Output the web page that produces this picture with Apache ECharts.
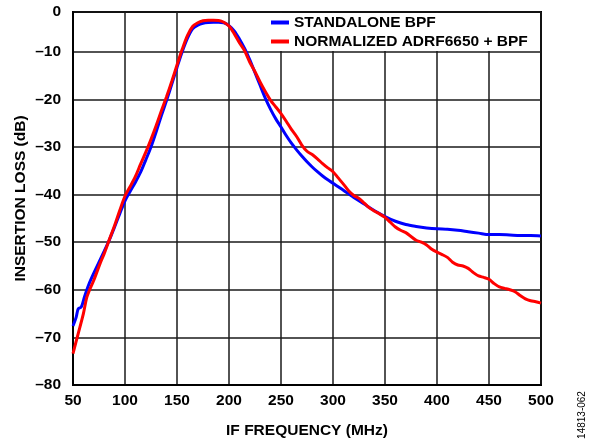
<!DOCTYPE html>
<html>
<head>
<meta charset="utf-8">
<script src="https://cdn.jsdelivr.net/npm/echarts@6/dist/echarts.min.js"></script>
<style>html,body{margin:0;padding:0;background:#fff;}#c{width:596px;height:444px;}</style>
</head>
<body>
<div id="c"></div>
<script>
const seriesNames = ['STANDALONE BPF', 'NORMALIZED ADRF6650 + BPF'];
const xTicks = [50, 100, 150, 200, 250, 300, 350, 400, 450, 500];
const yTicks = [0, -10, -20, -30, -40, -50, -60, -70, -80];

const freqBlue = [50,53,55,58,61,65,70,75,80,85,90,95,100,105,110,115,120,125,130,135,140,145,150,155,160,165,170,175,180,185,190,195,200,205,210,215,220,225,230,235,240,245,250,255,260,265,270,275,280,285,290,295,300,310,320,330,340,350,360,370,380,390,400,410,420,430,440,450,460,470,480,490,500];
const lossBlue = [-67.6,-65.8,-64,-63.6,-61.5,-59,-56.5,-54.2,-51.9,-49.5,-46.8,-44,-41.3,-39.3,-37.4,-35.3,-32.7,-30,-26.8,-23.4,-20.2,-16.8,-13.3,-10,-7.2,-5.2,-4.4,-4.0,-3.85,-3.8,-3.8,-3.9,-4.5,-5.6,-7.3,-9.3,-11.7,-14.4,-17.1,-19.8,-22.1,-24.1,-25.8,-27.6,-29.2,-30.6,-31.9,-33.1,-34.2,-35.2,-36.1,-36.9,-37.6,-39.1,-40.6,-42,-43.4,-44.6,-45.6,-46.3,-46.7,-47,-47.2,-47.3,-47.5,-47.8,-48.1,-48.4,-48.4,-48.5,-48.6,-48.6,-48.7];

const freqRed = [50,55,60,63,66,70,76,80,84,90,95,100,105,110,115,120,125,130,135,140,145,150,155,160,165,170,175,180,185,190,195,200,205,210,215,220,225,230,235,240,245,250,255,260,265,270,275,280,285,290,295,300,305,310,315,320,325,330,335,340,345,350,355,360,365,370,375,380,385,390,395,400,405,410,415,420,425,430,435,440,445,450,455,460,465,470,475,480,485,490,495,500];
const lossRed = [-73.4,-69.2,-65,-61.8,-60,-58,-54.5,-52.4,-50,-46.5,-43.3,-40.3,-38.3,-36.2,-33.6,-31.1,-28.4,-25.5,-22.4,-19.4,-16.2,-12.8,-9.5,-6.6,-4.7,-3.9,-3.5,-3.4,-3.4,-3.45,-3.8,-4.6,-6.2,-8.1,-9.8,-12.2,-14.2,-16.4,-18.4,-20.2,-21.6,-23.0,-24.6,-26.3,-27.8,-29.6,-30.9,-31.6,-32.5,-33.5,-34.4,-35.2,-36.5,-37.8,-39.2,-40.2,-40.8,-41.8,-42.8,-43.5,-44.1,-44.8,-45.8,-46.8,-47.5,-48,-48.8,-49.6,-50,-50.6,-51.5,-52.1,-52.6,-53.2,-54.2,-54.8,-55,-55.5,-56.4,-57.1,-57.4,-57.8,-58.7,-59.4,-59.7,-60,-60.4,-61.2,-61.9,-62.3,-62.5,-62.8];

const FONT = 'Liberation Sans, Arial, Helvetica, sans-serif';
const pairs = (xs, ys) => xs.map((x, i) => [x, ys[i]]);

const chart = echarts.init(document.getElementById('c'), null, {renderer: 'canvas'});
chart.setOption({
  animation: false,
  backgroundColor: '#fff',
  grid: {left: 73, right: 55, top: 12, bottom: 56, show: true, borderColor: '#000', borderWidth: 2, backgroundColor: 'transparent'},
  legend: {
    orient: 'vertical', left: 263, top: 13,
    backgroundColor: '#fff', padding: [1, 8, 1, 8],
    itemGap: 2, itemWidth: 18, itemHeight: 4, icon: 'rect',
    textStyle: {fontFamily: FONT, fontWeight: 'bold', fontSize: 15.5, color: '#000', lineHeight: 17},
    data: seriesNames
  },
  xAxis: {
    type: 'value', min: xTicks[0], max: xTicks[xTicks.length - 1], interval: 50,
    name: 'IF FREQUENCY (MHz)', nameLocation: 'middle', nameGap: 38,
    nameTextStyle: {fontFamily: FONT, fontWeight: 'bold', fontSize: 15.5, color: '#000'},
    axisLine: {show: true, lineStyle: {color: '#000', width: 2}},
    axisTick: {show: false},
    axisLabel: {margin: 8, fontFamily: FONT, fontWeight: 'bold', fontSize: 15.5, color: '#000'},
    splitLine: {show: true, lineStyle: {color: '#1a1a1a', width: 1.5}}
  },
  yAxis: {
    type: 'value', min: yTicks[yTicks.length - 1], max: -1.65, interval: 10,
    name: 'INSERTION LOSS (dB)', nameLocation: 'middle', nameGap: 44, nameRotate: 90,
    nameMoveOverlap: false,
    nameTextStyle: {fontFamily: FONT, fontWeight: 'bold', fontSize: 15.5, color: '#000'},
    axisLine: {show: true, lineStyle: {color: '#000', width: 2}},
    axisTick: {show: false},
    axisLabel: {
      margin: 12, fontFamily: FONT, fontWeight: 'bold', fontSize: 15.5, color: '#000',
      formatter: v => v > -5 ? String(yTicks[0]) : '\u2013' + Math.abs(Math.round(v))
    },
    splitLine: {show: true, lineStyle: {color: '#1a1a1a', width: 1.5}}
  },
  series: [
    {name: seriesNames[0], type: 'line', data: pairs(freqBlue, lossBlue), smooth: 0.3, showSymbol: false,
     lineStyle: {color: '#0000ff', width: 3}, itemStyle: {color: '#0000ff'}},
    {name: seriesNames[1], type: 'line', data: pairs(freqRed, lossRed), smooth: 0.3, showSymbol: false,
     lineStyle: {color: '#ff0000', width: 3}, itemStyle: {color: '#ff0000'}}
  ],
  graphic: [{
    type: 'text', x: 582, y: 415, rotation: Math.PI / 2,
    style: {text: '14813-062', fontFamily: FONT, fontSize: 10, fill: '#000', align: 'center', verticalAlign: 'middle'}
  }]
});
</script>
</body>
</html>
